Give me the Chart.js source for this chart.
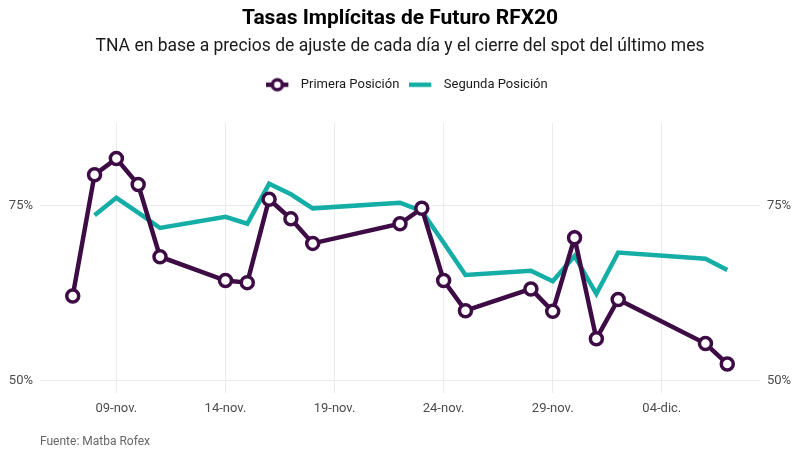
<!DOCTYPE html>
<html>
<head>
<meta charset="utf-8">
<script src="https://cdn.jsdelivr.net/npm/chart.js@4.4.0/dist/chart.umd.min.js"></script>
<style>
  html, body { margin: 0; padding: 0; background: #fff; }
  #wrap { width: 800px; height: 457px; }
</style>
</head>
<body>
<div id="wrap"><canvas id="tasasChart"></canvas></div>
<script>
const fechas = [
  "2022-11-07", "2022-11-08", "2022-11-09", "2022-11-10", "2022-11-11",
  "2022-11-14", "2022-11-15", "2022-11-16", "2022-11-17", "2022-11-18",
  "2022-11-22", "2022-11-23", "2022-11-24", "2022-11-25", "2022-11-28",
  "2022-11-29", "2022-11-30", "2022-12-01", "2022-12-02", "2022-12-06",
  "2022-12-07",
];
const primeraPosicion = [
  62.1, 79.4, 81.7, 78.0, 67.7, 64.3, 64.0, 75.9, 73.1, 69.6,
  72.4, 74.6, 64.3, 60.0, 63.1, 59.9, 70.4, 56.0, 61.6, 55.3, 52.4,
];
const segundaPosicion = [
  null, 73.6, 76.1, 74.0, 71.8, 73.4, 72.4, 78.1, 76.6, 74.6,
  75.4, 74.2, 69.7, 65.1, 65.7, 64.2, 67.8, 62.4, 68.3, 67.4, 65.8,
];
const tickFechas = ["2022-11-09", "2022-11-14", "2022-11-19", "2022-11-24", "2022-11-29", "2022-12-04"];
const tickLabels = ["09-nov.", "14-nov.", "19-nov.", "24-nov.", "29-nov.", "04-dic."];
const yTicks = [50, 75];

const morado = "#3d0c45";
const verde = "#14aea6";
const gris = "#4d4d4d";

// dias contados desde el 31-oct
const origen = Date.UTC(2022, 9, 31);
const aDia = (f) => (new Date(f + "T00:00:00Z").getTime() - origen) / 86400000;

const serie = (valores) =>
  fechas.map((f, i) => ({ x: aDia(f), y: valores[i] })).filter((p) => p.y !== null);

// icono de leyenda: linea (y punto) dibujados en un canvas chico
function iconoLeyenda(color, conPunto) {
  const c = document.createElement("canvas");
  c.width = 28;
  c.height = 16;
  const g = c.getContext("2d");
  g.strokeStyle = color;
  g.lineWidth = 4.5;
  g.beginPath();
  g.moveTo(0, 8);
  g.lineTo(22, 8);
  g.stroke();
  if (conPunto) {
    g.beginPath();
    g.arc(11, 8, 5, 0, 2 * Math.PI);
    g.fillStyle = "#fff";
    g.fill();
    g.lineWidth = 3.5;
    g.stroke();
  }
  return c;
}
const iconos = [iconoLeyenda(morado, true), iconoLeyenda(verde, false)];

// la leyenda del original queda un poco corrida a la derecha
const correrLeyenda = {
  id: "correrLeyenda",
  afterLayout(chart) {
    chart.legend.left += 7;
    chart.legend.right += 7;
  },
};

const fuente = "Roboto";

const ejeY = (posicion, ancho, conGrilla) => ({
  type: "linear",
  position: posicion,
  min: 48.25,
  max: 86.75,
  afterBuildTicks: (s) => {
    s.ticks = yTicks.map((v) => ({ value: v }));
  },
  afterFit: (s) => {
    s.width = ancho;
  },
  ticks: {
    padding: 7,
    color: gris,
    font: { family: fuente, size: 13 },
    callback: (v) => v + "%",
  },
  grid: { display: conGrilla, color: "#ebebeb", lineWidth: 1, drawTicks: false },
  border: { display: false },
});

new Chart(document.getElementById("tasasChart"), {
  type: "line",
  plugins: [correrLeyenda],
  data: {
    datasets: [
      {
        label: "Primera Posición",
        data: serie(primeraPosicion),
        borderColor: morado,
        borderWidth: 4.5,
        pointRadius: 6,
        pointBorderWidth: 3.5,
        pointBackgroundColor: "#fff",
        pointBorderColor: morado,
        tension: 0,
      },
      {
        label: "Segunda Posición",
        data: serie(segundaPosicion),
        borderColor: verde,
        borderWidth: 4.5,
        pointRadius: 0,
        tension: 0,
      },
    ],
  },
  options: {
    responsive: true,
    maintainAspectRatio: false,
    animation: false,
    events: [],
    layout: { padding: 0 },
    plugins: {
      tooltip: { enabled: false },
      title: {
        display: true,
        text: "Tasas Implícitas de Futuro RFX20",
        color: "#000",
        font: { family: fuente, size: 21, weight: "bold" },
        padding: { top: 6, bottom: 5 },
      },
      subtitle: {
        display: true,
        text: "TNA en base a precios de ajuste de cada día y el cierre del spot del último mes",
        color: "#1a1a1a",
        font: { family: fuente, size: 17.5 },
        padding: { top: 0, bottom: 11 },
      },
      legend: {
        position: "top",
        labels: {
          usePointStyle: true,
          pointStyleWidth: 28,
          padding: 10,
          color: "#1a1a1a",
          font: { family: fuente, size: 13 },
          generateLabels: (chart) =>
            Chart.defaults.plugins.legend.labels
              .generateLabels(chart)
              .map((item, i) => ({ ...item, pointStyle: iconos[i] })),
        },
      },
    },
    scales: {
      x: {
        type: "linear",
        min: 5.5,
        max: 38.5,
        afterBuildTicks: (s) => {
          s.ticks = tickFechas.map((f) => ({ value: aDia(f) }));
        },
        afterFit: (s) => {
          s.height = 64;
        },
        ticks: {
          autoSkip: false,
          maxRotation: 0,
          padding: 8,
          color: gris,
          font: { family: fuente, size: 13 },
          callback: (v, i) => tickLabels[i],
        },
        grid: { color: "#ebebeb", lineWidth: 1, drawTicks: false },
        border: { display: false },
        title: {
          display: true,
          text: "Fuente: Matba Rofex",
          align: "start",
          color: "#666",
          font: { family: fuente, size: 12 },
          padding: { top: 0, bottom: 8 },
        },
      },
      espacio: {
        type: "linear",
        position: "top",
        display: true,
        ticks: { display: false },
        grid: { display: false },
        border: { display: false },
        afterFit: (s) => {
          s.height = 22;
        },
      },
      y: ejeY("left", 40, true),
      y2: ejeY("right", 40, false),
    },
  },
});
</script>
</body>
</html>
